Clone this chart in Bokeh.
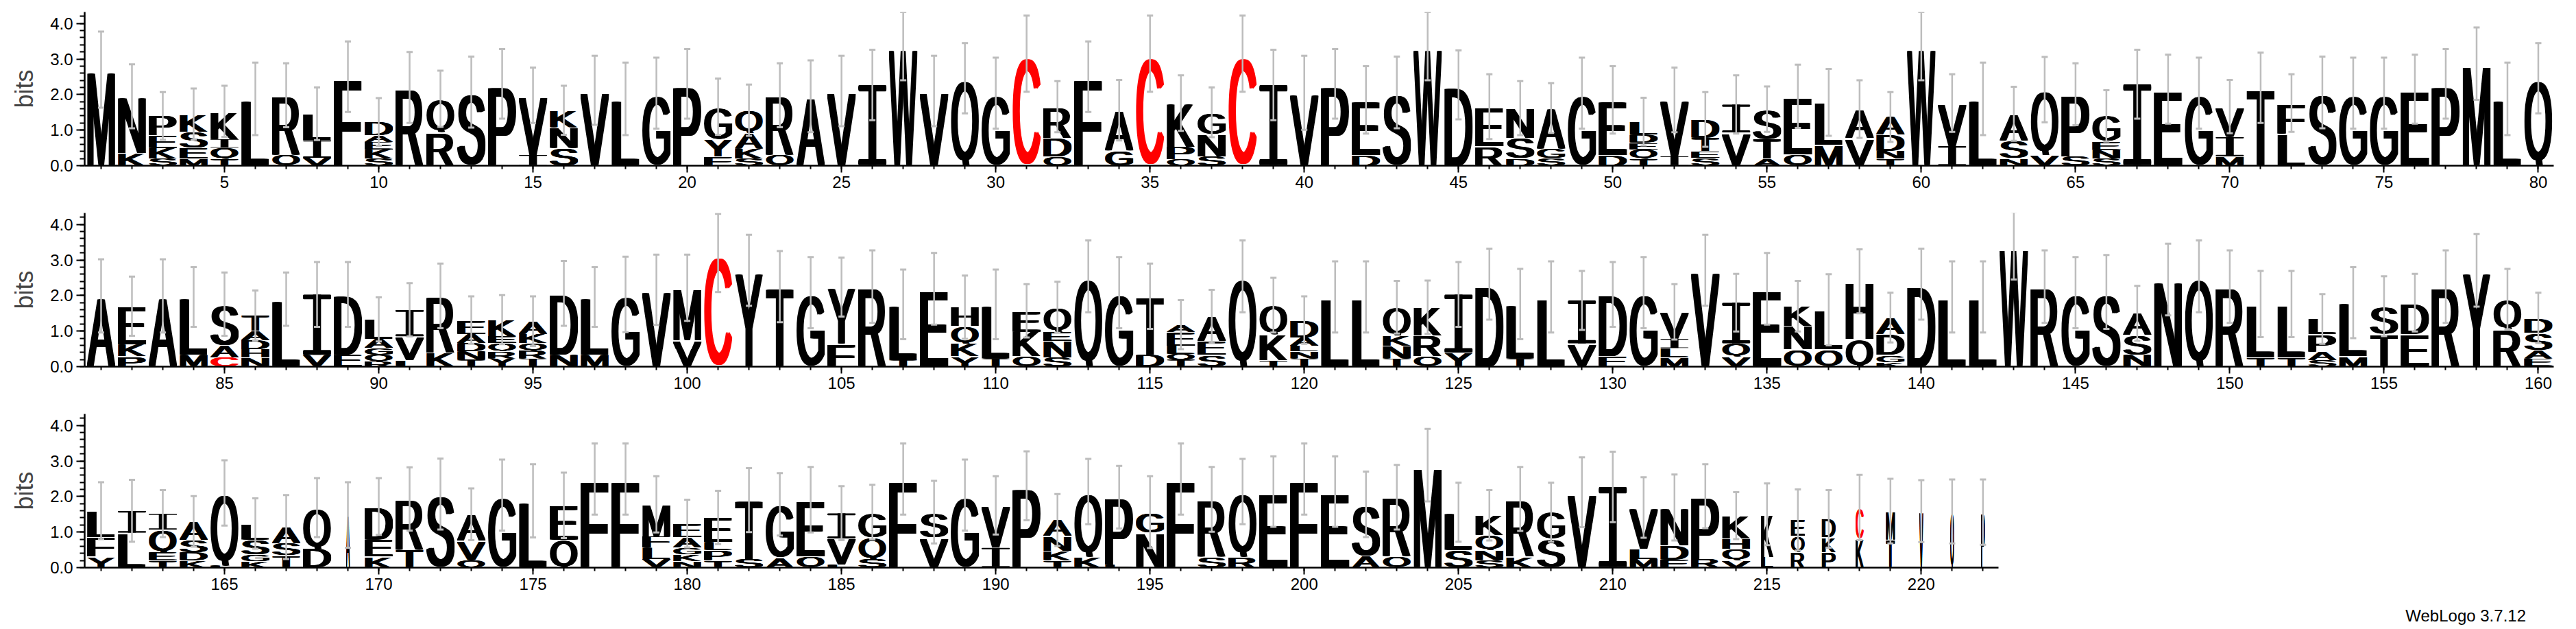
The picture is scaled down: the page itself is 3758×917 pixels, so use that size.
import urllib.parse
from bokeh.plotting import figure
from bokeh.layouts import column
from bokeh.models import FixedTicker, PrintfTickFormatter, Div, ColumnDataSource, Range1d
from bokeh.embed import file_html
from bokeh.resources import INLINE

# ---------------- data (letters bottom -> top, heights in bits) ----------------
r1_letters = ["M", "KN", "SKEP", "MESK", "TQIK", "L", "QR", "VIL", "F", "SKEAD",
              "R", "RQ", "S", "P", "IV", "SNK", "V", "L", "G", "P",
              "FYG", "SKAQ", "QR", "A", "V", "I", "W", "V", "Q", "G",
              "C", "QDR", "F", "GA", "C", "QPK", "SNG", "C", "I", "V",
              "P", "DE", "S", "W", "D", "RE", "DSN", "SGA", "G", "DE",
              "TQEDL", "IV", "SETD", "VI", "ATS", "QE", "ML", "VA", "TNDA", "W",
              "IV", "L", "NSA", "VQ", "SP", "SNEG", "I", "E", "G", "MIV",
              "T", "LF", "S", "G", "G", "E", "P", "M", "L", "Q"]
r1_heights = [[2.70], [.35, 1.60], [.20, .30, .35, .55], [.20, .30, .45, .50], [.20, .30, .25, .78],
              [1.88], [.30, 1.68], [.22, .50, .74], [2.50], [.20, .25, .22, .18, .38],
              [2.20], [.95, .93], [2.07], [2.30], [.30, 1.68],
              [.50, .58, .48], [2.12], [1.88], [2.04], [2.30],
              [.26, .48, .92], [.20, .28, .44, .64], [.30, 1.68], [1.95], [2.10],
              [2.27], [3.36], [2.10], [2.46], [2.04],
              [3.15], [.26, .52, .88], [2.50], [.43, 1.13], [3.15],
              [.18, .35, 1.23], [.26, .62, .62], [3.15], [2.27], [2.05],
              [2.30], [.30, 1.55], [2.06], [3.36], [2.27],
              [.55, 1.11], [.20, .58, .84], [.21, .27, 1.14], [2.04], [.30, 1.55],
              [.20, .26, .19, .22, .37], [.26, 1.59], [.22, .19, .38, .51], [.93, .79], [.20, .55, .84],
              [.32, 1.63], [.58, 1.20], [.78, .81], [.20, .22, .45, .50], [3.36],
              [.55, 1.21], [1.88], [.20, .51, .75], [.30, 1.84], [.26, 1.75],
              [.20, .24, .24, .72], [2.29], [2.15], [2.04], [.26, .55, .85],
              [2.19], [.90, .86], [2.06], [2.04], [2.04],
              [2.15], [2.30], [2.87], [1.88], [2.46]]
r1_err = [1.07, .90, .67, .72, .72, 1.02, .90, .74, .99, .67,
          1.00, .79, 1.00, .98, .78, .69, .97, 1.02, 1.00, .98,
          .79, .72, .90, 1.01, .99, .99, .96, .99, .99, 1.00,
          1.07, .72, .99, .85, 1.07, .78, .70, 1.07, .99, 1.04,
          .98, .95, 1.01, .96, .97, .91, .76, .70, 1.00, .95,
          .67, .91, .77, .82, .64, .89, .94, .81, .70, .96,
          .81, 1.02, .76, .92, .87, .72, .97, .97, 1.00, .75,
          .99, .81, 1.01, 1.00, 1.00, .97, .98, 1.02, 1.02, .99]

r2_letters = ["A", "PKE", "A", "ML", "CAS", "NHDAT", "L", "VI", "ED", "RQGAL",
              "LVI", "KR", "TNDAE", "YRQEK", "TRQKA", "ND", "ML", "G", "V", "VM",
              "C", "Y", "T", "G", "FY", "R", "TL", "E", "YKQH", "TL",
              "QKE", "SNEQ", "Q", "G", "DT", "TQLEA", "SEA", "Q", "TKQ", "TNLAD",
              "L", "L", "TNKQ", "QRK", "YI", "D", "TL", "L", "VI", "ED",
              "G", "MLIV", "V", "VQI", "E", "QNK", "QL", "QH", "KGDA", "D",
              "L", "L", "W", "R", "G", "S", "NSA", "N", "Q", "R",
              "TL", "TL", "SAPL", "ML", "TS", "ED", "R", "Y", "RQ", "EASD"]
r2_heights = [[1.99], [.29, .33, 1.08], [1.99], [.33, 1.63], [.26, .33, 1.17],
              [.26, .23, .26, .26, .43], [1.90], [.33, 1.70], [.33, 1.70], [.15, .18, .20, .25, .55],
              [.18, .67, .75], [.39, 1.60], [.20, .23, .23, .26, .39], [.23, .20, .23, .20, .46], [.23, .23, .20, .26, .36],
              [.33, 1.73], [.33, 1.63], [2.03], [2.16], [.75, 1.47],
              [3.20], [2.71], [2.25], [2.08], [.65, 1.59],
              [2.25], [.20, 1.55], [2.19], [.29, .36, .49, .53], [.23, 1.52],
              [.29, .69, .59], [.26, .46, .26, .69], [2.54], [2.08], [.33, 1.65],
              [.20, .16, .23, .39, .20], [.33, .39, .69], [2.54], [.18, .73, .82], [.23, .20, .16, .23, .49],
              [1.96], [1.96], [.23, .36, .29, .79], [.29, .59, .79], [.39, 1.64],
              [2.32], [.23, 1.53], [1.96], [.65, 1.21], [.29, 1.74],
              [2.08], [.26, .26, .26, .76], [2.71], [.29, .36, 1.15], [2.19],
              [.49, .65, .56], [.49, 1.11], [.78, 1.62], [.13, .20, .59, .46], [2.32],
              [1.96], [1.96], [3.40], [2.25], [2.08],
              [2.10], [.33, .56, .61], [2.45], [2.54], [2.25],
              [.26, 1.50], [.26, 1.50], [.18, .24, .49, .43], [.29, 1.51], [.92, .78],
              [.92, .88], [2.25], [2.71], [1.05, .85], [.23, .23, .49, .42]]
r2_err = [1.03, .83, 1.03, .84, .89, .70, .75, .91, .91, .62,
          .75, .91, .67, .69, .70, .91, .84, 1.06, .99, .93,
          1.10, 1.00, 1.00, 1.00, .83, 1.02, .98, 1.01, .89, .98,
          .75, .72, 1.01, 1.00, .92, .69, .75, 1.01, .77, .67,
          1.00, 1.00, .74, .75, .91, 1.00, .99, 1.00, .83, .91,
          1.00, .78, 1.00, .81, 1.01, .71, 1.00, .90, .70, 1.00,
          1.00, 1.00, .95, 1.02, 1.00, 1.04, .77, 1.01, 1.01, 1.02,
          .93, .93, .70, 1.00, .84, .81, 1.02, 1.02, .85, .71]

r3_letters = ["YFL", "LI", "TEQI", "KDSA", "LQ", "KGSL", "TSA", "DQ", "A", "KED",
              "TR", "S", "QVA", "G", "L", "QE", "F", "F", "VLFM", "NKGAE",
              "TPLE", "ST", "AG", "QE", "LVI", "SQG", "F", "VS", "G", "IV",
              "P", "TKNA", "KQ", "LP", "NG", "F", "SR", "RQ", "E", "F",
              "E", "AS", "QR", "M", "SL", "SNQK", "KR", "SG", "V", "I",
              "MLV", "EDN", "RP", "VQHK", "LK", "RQE", "PKD", "KC", "TM", "V",
              "Q", "P"]
r3_heights = [[.31, .55, .74], [.98, .62], [.21, .22, .64, .45], [.21, .22, .35, .52], [.06, 2.04],
              [.18, .19, .42, .45], [.34, .35, .45], [.53, 1.16], [1.48], [.31, .48, .93],
              [.50, 1.43], [2.07], [.21, .55, .74], [2.04], [1.88],
              [.79, .96], [2.49], [2.49], [.24, .32, .32, .90], [.18, .19, .19, .29, .39],
              [.21, .29, .22, .69], [.24, 1.66], [.28, 1.50], [.31, 1.60], [.08, .74, .71],
              [.24, .61, .71], [2.49], [.85, .71], [2.04], [.56, 1.19],
              [2.30], [.21, .26, .42, .45], [.31, 1.83], [.08, 1.90], [.98, .58],
              [2.49], [.31, 1.61], [.31, 1.83], [2.14], [2.49],
              [2.14], [.32, 1.46], [.31, 1.67], [2.88], [.50, 1.06],
              [.21, .29, .42, .55], [.31, 1.62], [.82, .74], [2.12], [2.27],
              [.24, .29, 1.16], [.23, .40, 1.06], [.24, 1.77], [.21, .32, .29, .64], [.30, 1.20],
              [.44, .45, .45], [.44, .42, .51], [.82, .87], [.79, .80], [1.59],
              [1.58], [1.56]]
r3_err = [.80, .87, .66, .71, .92, .71, .90, .83, .92, .80,
          .89, 1.00, .73, 1.00, 1.03, .92, 1.00, 1.00, .79, .67,
          .75, .90, .88, .92, .76, .77, 1.00, .88, 1.00, .82,
          .97, .73, .92, .88, 1.01, 1.00, .91, .92, .99, 1.00,
          .99, .92, .91, 1.02, .83, .71, .90, .83, .98, .99,
          .85, .93, .90, .66, .87, .86, .81, .92, .91, .87,
          .90, .92]

narrow_pos = [169, 215, 216, 217, 218, 219, 220, 221, 222]
narrow_width = [0.14, 0.45, 0.50, 0.50, 0.30, 0.33, 0.14, 0.14, 0.14]

x_labels_r1 = list(range(5, 81, 5))
x_labels_r2 = list(range(85, 161, 5))
x_labels_r3 = list(range(165, 221, 5))

# ---------------- letter shapes (stretched glyphs, heavier verticals) ----------------
BBOX = {
    'A': (14, 0, 654, 718), 'C': (44, -19, 681, 737), 'D': (81, 0, 674, 718),
    'E': (86, 0, 616, 718), 'F': (86, 0, 583, 718), 'G': (48, -19, 704, 737),
    'H': (77, 0, 646, 718), 'K': (76, 0, 663, 718), 'L': (76, 0, 537, 718),
    'M': (73, 0, 761, 718), 'N': (76, 0, 646, 718), 'P': (86, 0, 620, 718),
    'Q': (39, -56, 739, 737), 'R': (88, 0, 684, 718), 'S': (49, -19, 620, 737),
    'T': (14, 0, 597, 718), 'V': (20, 0, 648, 718), 'W': (16, 0, 928, 718),
    'Y': (14, 0, 653, 718),
}
SMEAR = 90
STEPS = 5


def letter_url(ch, color):
    if ch == 'I':
        svg = ("<svg xmlns='http://www.w3.org/2000/svg' width='400' height='400' "
               "viewBox='0 0 100 100' preserveAspectRatio='none'>"
               f"<rect x='0' y='0' width='100' height='8' rx='4' fill='{color}'/>"
               f"<rect x='36' y='0' width='28' height='100' fill='{color}'/>"
               f"<rect x='0' y='92' width='100' height='8' rx='4' fill='{color}'/></svg>")
    else:
        llx, lly, urx, ury = BBOX[ch]
        copies = "".join(
            f"<text x='{SMEAR * k / (STEPS - 1):.1f}' y='0'>{ch}</text>" for k in range(STEPS))
        svg = ("<svg xmlns='http://www.w3.org/2000/svg' width='400' height='400' "
               f"viewBox='{llx} {-ury} {urx - llx + SMEAR} {ury - lly}' preserveAspectRatio='none'>"
               "<g font-family='Liberation Sans, Arial, sans-serif' "
               f"font-size='1000' fill='{color}'>{copies}</g></svg>")
    return "data:image/svg+xml;charset=utf-8," + urllib.parse.quote(svg)


COLW = dict(zip(narrow_pos, narrow_width))
ERR_COLOR = "#bdbdbd"


def make_row(first, letters, heights, errs, labels, xmax_axis, extra_bottom=0):
    p = figure(width=3742, height=293 + extra_bottom,
               x_range=Range1d(first - 0.533, first + 79.5), y_range=Range1d(0, 4.3219),
               min_border_left=123, min_border_right=17, min_border_top=17,
               min_border_bottom=52 + extra_bottom,
               output_backend="svg", toolbar_location=None, tools="")
    p.grid.visible = False
    p.outline_line_color = None
    p.background_fill_color = "white"

    src = dict(x=[], y=[], w=[], h=[], url=[])
    ex, elo, ehi = [], [], []
    for i, (ls, hs, e) in enumerate(zip(letters, heights, errs)):
        pos = first + i
        cw = COLW.get(pos, 1.0) * 0.92
        base = 0.0
        for ch, hh in zip(ls, hs):
            src['x'].append(pos - cw / 2)
            src['y'].append(base)
            src['w'].append(cw)
            src['h'].append(hh)
            src['url'].append(letter_url(ch, "#ff0000" if ch == 'C' else "#000000"))
            base += hh
        ex.append(pos)
        elo.append(base - e)
        ehi.append(base + e)

    p.image_url(url='url', x='x', y='y', w='w', h='h', anchor="bottom_left",
                source=ColumnDataSource(src))
    p.segment(x0=ex, y0=elo, x1=ex, y1=ehi, line_color=ERR_COLOR, line_width=2.5)
    p.scatter(x=ex + ex, y=elo + ehi, marker="dash", size=9, line_color=ERR_COLOR,
              line_width=3)

    xa = p.xaxis[0]
    xa.ticker = FixedTicker(ticks=labels, minor_ticks=list(range(first, first + len(letters))))
    xa.bounds = (first - 0.533, xmax_axis)
    ya = p.yaxis[0]
    ya.ticker = FixedTicker(ticks=[0, 1, 2, 3, 4], minor_ticks=[round(0.2 * k, 1) for k in range(22)])
    ya.formatter = PrintfTickFormatter(format="%.1f")
    ya.axis_label = "bits"
    ya.axis_label_text_font = "Liberation Sans"
    ya.axis_label_text_font_size = "36px"
    ya.axis_label_text_font_style = "normal"
    ya.axis_label_standoff = 14
    for ax in (xa, ya):
        ax.axis_line_width = 2.5
        ax.axis_line_color = "black"
        ax.major_tick_line_width = 2
        ax.minor_tick_line_width = 2
        ax.major_tick_in = 0
        ax.minor_tick_in = 0
        ax.major_label_text_font = "Liberation Sans"
        ax.major_label_text_font_size = "24px"
        ax.major_label_text_color = "black"
    xa.major_tick_out = 10
    xa.minor_tick_out = 5
    ya.major_tick_out = 12
    ya.minor_tick_out = 7
    return p


p1 = make_row(1, r1_letters, r1_heights, r1_err, x_labels_r1, 80.5)
p2 = make_row(81, r2_letters, r2_heights, r2_err, x_labels_r2, 160.5)
p3 = make_row(161, r3_letters, r3_heights, r3_err, x_labels_r3, 222.5, extra_bottom=2)

credit = Div(text="WebLogo 3.7.12", width=3680, height=24,
             styles={"font-family": "'Liberation Sans', Arial, sans-serif",
                     "font-size": "24px", "line-height": "24px",
                     "text-align": "right", "color": "black"})

layout = column(p1, p2, p3, credit, spacing=0)
open("out.html", "w").write(file_html(layout, INLINE, title="WebLogo"))
